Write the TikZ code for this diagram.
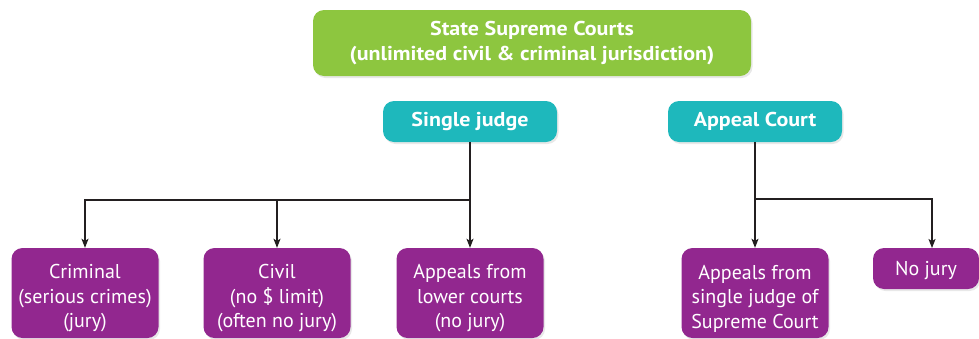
\documentclass[tikz,border=0pt]{standalone}
\usepackage{fontspec}
\setmainfont{PT Sans}[BoldFeatures={FakeStretch=1.1}]
\usetikzlibrary{arrows.meta,shadows}
\definecolor{courtgreen}{HTML}{8DC63F}
\definecolor{courtteal}{HTML}{1EB8BC}
\definecolor{courtpurple}{HTML}{92278F}
\definecolor{linkgray}{HTML}{231F20}
% strut that lowers the text block a little inside the purple boxes
\newcommand{\toppad}[1]{\rule{0pt}{#1}}
\begin{document}
\begin{tikzpicture}[x=1pt,y=-1pt,
  box/.style={rectangle, rounded corners=11pt, text=white, align=center,
    inner sep=0pt, drop shadow={shadow xshift=1.5pt, shadow yshift=-2pt, opacity=0.18}},
  topbox/.style={box, fill=courtgreen, font=\bfseries\fontsize{20}{24.5}\selectfont},
  midbox/.style={box, fill=courtteal, font=\bfseries\fontsize{20}{24}\selectfont},
  leafbox/.style={box, fill=courtpurple, font=\fontsize{20}{24.5}\selectfont},
  link/.style={draw=linkgray, line width=1.2pt},
  arrow/.style={link, -{Stealth[length=9pt,width=7pt,inset=2pt]}}]
\useasboundingbox (0,0) rectangle (979,338);

\node[topbox, minimum width=438pt, minimum height=66pt] (ssc) at (532,43)
  {State Supreme Courts\\(unlimited civil \& criminal jurisdiction)};

\node[midbox, minimum width=174pt, minimum height=41pt] (sj) at (470,121.5) {Single judge};
\node[midbox, minimum width=174pt, minimum height=41pt] (ac) at (755,121.5) {Appeal Court};

\node[leafbox, minimum width=147pt, minimum height=90pt] (crim) at (85,293)
  {\toppad{25pt}Criminal\\(serious crimes)\\(jury)};
\node[leafbox, minimum width=147pt, minimum height=90pt] (civ) at (277,293)
  {\toppad{25pt}Civil\\(no \$ limit)\\(often no jury)};
\node[leafbox, minimum width=147pt, minimum height=90pt] (low) at (470,293)
  {\toppad{25pt}Appeals from\\lower courts\\(no jury)};
\node[leafbox, minimum width=147pt, minimum height=90pt] (asj) at (755,293)
  {\toppad{25pt}Appeals from\\single judge of\\Supreme Court};
\node[leafbox, minimum width=106pt, minimum height=41pt] (nj) at (926,268.5) {\toppad{18.5pt}No jury};

\coordinate (jl) at (470,200);
\coordinate (jr) at (755,199);
\coordinate (njin) at (932,248);

\draw[arrow] (sj.south) -- (low.north);
\draw[arrow] (jl) -| (crim.north);
\draw[arrow] (jl) -| (civ.north);
\draw[arrow] (ac.south) -- (asj.north);
\draw[arrow] (jr) -| (njin);
\end{tikzpicture}
\end{document}
